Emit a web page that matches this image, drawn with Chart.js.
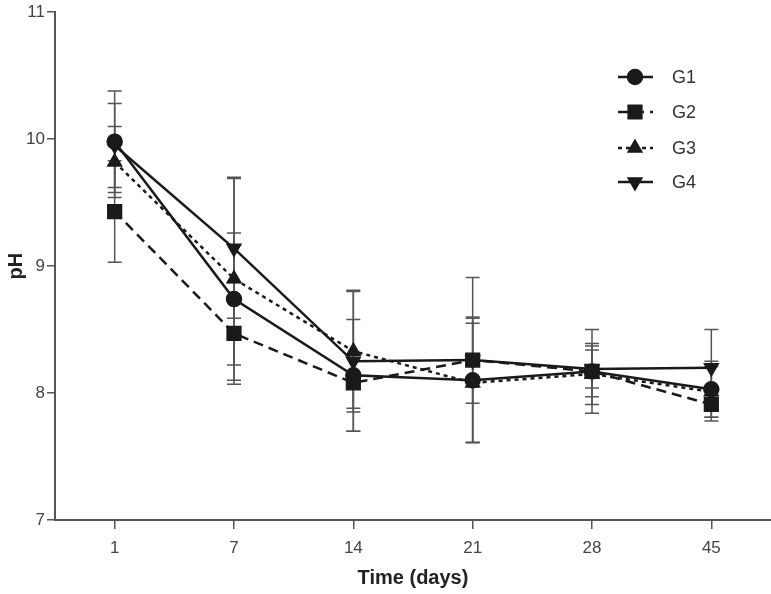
<!DOCTYPE html>
<html>
<head>
<meta charset="utf-8">
<script src="https://cdn.jsdelivr.net/npm/chart.js@4"></script>
<style>
  html, body { margin: 0; padding: 0; background: #fff; overflow: hidden; }
  #wrap { width: 771px; height: 594px; }
  canvas { display: block; }
</style>
</head>
<body>
<div id="wrap"><canvas id="chart" width="771" height="594"></canvas></div>
<script>
// categories and values
const days = ['1', '7', '14', '21', '28', '45'];
const yTicks = [7, 8, 9, 10, 11];

const g1 = [9.98, 8.74, 8.14, 8.10, 8.17, 8.03];
const g2 = [9.43, 8.47, 8.08, 8.26, 8.17, 7.91];
const g3 = [9.82, 8.90, 8.33, 8.08, 8.15, 8.01];
const g4 = [9.95, 9.14, 8.25, 8.26, 8.19, 8.20];

// standard deviations (error bar half-lengths)
const e1 = [0.40, 0.52, 0.44, 0.49, 0.20, 0.22];
const e2 = [0.40, 0.40, 0.20, 0.65, 0.33, 0.13];
const e3 = [0.28, 0.80, 0.48, 0.47, 0.24, 0.20];
const e4 = [0.33, 0.55, 0.55, 0.34, 0.15, 0.30];

const ink = '#1a1a1a';
const axisGrey = '#555';
const fontFamily = "'Liberation Sans Narrow', 'Liberation Sans', Arial, sans-serif";

function series(label, data, errs, style, dash, rotation) {
    return {
        label: label,
        data: data,
        errors: errs,
        borderColor: ink,
        backgroundColor: ink,
        borderWidth: 2.5,
        borderDash: dash,
        pointStyle: style,
        pointRotation: rotation || 0,
        pointRadius: style === 'rect' ? 9 : 7,
        pointHoverRadius: style === 'rect' ? 9 : 7,
        tension: 0,
        fill: false
    };
}

// draws vertical error bars with caps under the lines
const errorBars = {
    id: 'errorBars',
    beforeDatasetsDraw(chart) {
        const ctx = chart.ctx;
        const x = chart.scales.x;
        const y = chart.scales.y;
        ctx.save();
        ctx.strokeStyle = axisGrey;
        ctx.lineWidth = 1.5;
        chart.data.datasets.forEach(function(ds) {
            ds.data.forEach(function(v, i) {
                const px = x.getPixelForValue(i);
                const top = y.getPixelForValue(v + ds.errors[i]);
                const bot = y.getPixelForValue(v - ds.errors[i]);
                ctx.beginPath();
                ctx.moveTo(px, top);
                ctx.lineTo(px, bot);
                ctx.moveTo(px - 7, top);
                ctx.lineTo(px + 7, top);
                ctx.moveTo(px - 7, bot);
                ctx.lineTo(px + 7, bot);
                ctx.stroke();
            });
        });
        ctx.restore();
    }
};

// legend in the upper right of the plot
const insideLegend = {
    id: 'insideLegend',
    afterDraw(chart) {
        const ctx = chart.ctx;
        const x0 = 618, x1 = 653, xm = 635;
        const rows = [77, 112, 148, 182];
        ctx.save();
        chart.data.datasets.forEach(function(ds, i) {
            const yy = rows[i];
            ctx.strokeStyle = ink;
            ctx.lineWidth = 2.5;
            ctx.setLineDash(ds.borderDash || []);
            ctx.beginPath();
            ctx.moveTo(x0, yy);
            ctx.lineTo(x1, yy);
            ctx.stroke();
            ctx.setLineDash([]);
            Chart.helpers.drawPoint(ctx, {
                pointStyle: ds.pointStyle,
                rotation: ds.pointRotation,
                radius: ds.pointRadius,
                borderWidth: 1
            }, xm, yy);
            ctx.fillStyle = ink;
            ctx.fill();
            ctx.fillStyle = '#333';
            ctx.font = '18px ' + fontFamily;
            ctx.textBaseline = 'middle';
            ctx.fillText(ds.label, 672, yy + 1);
        });
        ctx.restore();
    }
};

new Chart(document.getElementById('chart'), {
    type: 'line',
    data: {
        labels: days,
        datasets: [
            series('G1', g1, e1, 'circle', []),
            series('G2', g2, e2, 'rect', [10, 6]),
            series('G3', g3, e3, 'triangle', [4, 4]),
            series('G4', g4, e4, 'triangle', [], 180)
        ]
    },
    options: {
        responsive: false,
        animation: false,
        layout: { autoPadding: false, padding: { top: 10, right: 0, left: 0, bottom: 0 } },
        plugins: {
            legend: { display: false },
            tooltip: { enabled: false }
        },
        scales: {
            x: {
                offset: true,
                afterFit: function(scale) {
                    scale.height = 74;
                    scale.paddingLeft = 0;
                    scale.paddingRight = 0;
                },
                grid: {
                    display: true,
                    drawOnChartArea: false,
                    drawTicks: true,
                    tickLength: 9,
                    color: axisGrey,
                    lineWidth: 1.5,
                    offset: false
                },
                border: { display: true, color: axisGrey, width: 2 },
                ticks: {
                    color: '#444',
                    padding: 9,
                    font: { family: fontFamily, size: 17 }
                },
                title: {
                    display: true,
                    text: 'Time (days)',
                    color: '#222',
                    padding: { top: 6 },
                    font: { family: fontFamily, size: 20, weight: 'bold' }
                }
            },
            y: {
                min: 7,
                max: 11,
                afterFit: function(scale) { scale.width = 55; },
                afterBuildTicks: function(scale) {
                    scale.ticks = yTicks.map(function(v) { return { value: v }; });
                },
                grid: {
                    display: true,
                    drawOnChartArea: false,
                    drawTicks: true,
                    tickLength: 8,
                    color: axisGrey,
                    lineWidth: 1.5
                },
                border: { display: true, color: axisGrey, width: 2 },
                ticks: {
                    color: '#444',
                    padding: 2,
                    font: { family: fontFamily, size: 17 }
                },
                title: {
                    display: true,
                    text: 'pH',
                    color: '#222',
                    padding: { bottom: 2 },
                    font: { family: fontFamily, size: 20, weight: 'bold' }
                }
            }
        }
    },
    plugins: [errorBars, insideLegend]
});
</script>
</body>
</html>
